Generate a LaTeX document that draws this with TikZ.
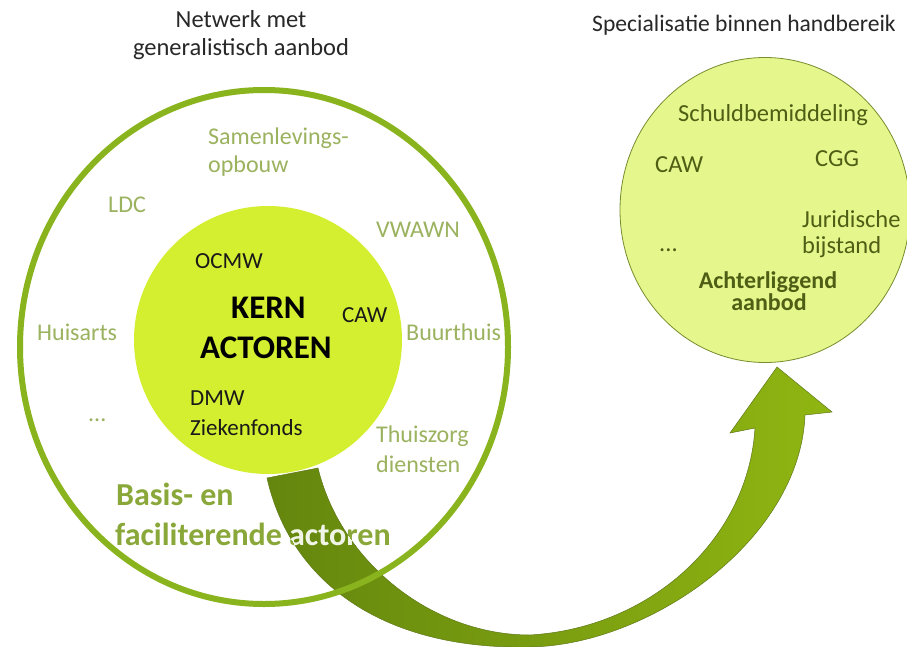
\documentclass[tikz,border=0pt]{standalone}
\usepackage{fontspec}
\setmainfont{Carlito}
\usetikzlibrary{positioning,shapes.geometric}

\definecolor{kerngroen}{RGB}{212,238,48}
\definecolor{ringgroen}{RGB}{138,180,30}
\definecolor{specvul}{RGB}{228,246,140}
\definecolor{speclijn}{RGB}{118,140,45}
\definecolor{lblgroen}{RGB}{155,178,95}
\definecolor{basisgroen}{RGB}{138,168,58}
\definecolor{spectekst}{RGB}{78,94,20}
\definecolor{titeltekst}{RGB}{40,40,40}
\definecolor{pijldonker}{RGB}{100,134,14}
\definecolor{pijllicht}{RGB}{144,182,18}
\definecolor{pijlrand}{RGB}{95,120,25}

\newcommand{\pijlvorm}{(267,478) .. controls (290,580) and (380,650) .. (530,647)
  .. controls (650,645) and (800,540) .. (805,415)
  -- (832,412) -- (777,367) -- (730,433) -- (755,428)
  .. controls (748,540) and (650,628) .. (530,635)
  .. controls (430,635) and (340,560) .. (318,468) -- cycle}

\begin{document}
\begin{tikzpicture}[x=1pt,y=-1pt,
  lbl/.style={font=\fontsize{24}{29}\selectfont, text=lblgroen, inner sep=0pt, anchor=base west},
  kerntxt/.style={font=\fontsize{23}{28}\selectfont, text=black!90, inner sep=0pt, anchor=base west},
  kernbig/.style={font=\fontsize{33}{38}\selectfont\bfseries, text=black, inner sep=0pt, anchor=base west},
  basis/.style={font=\fontsize{32}{37}\selectfont\bfseries, text=basisgroen, inner sep=0pt, anchor=base west},
  spec/.style={font=\fontsize{24.5}{29}\selectfont, text=spectekst, inner sep=0pt, anchor=base west},
  titel/.style={font=\fontsize{24.5}{29}\selectfont, text=titeltekst, inner sep=0pt}]
\clip (0,0) rectangle (907,647);
\fill[white] (0,0) rectangle (907,647);

\node[circle, fill=kerngroen, minimum size=268pt, inner sep=0pt] (kern) at (268,340) {};
\node[ellipse, fill=specvul, draw=speclijn, line width=0.8pt, minimum width=290pt, minimum height=305pt, inner sep=0pt] (spec) at (765,210) {};

% pijl
\path[left color=pijldonker, right color=pijllicht, draw=pijlrand, line width=0.5pt] \pijlvorm;

\node[ellipse, draw=ringgroen, line width=6pt, minimum width=488pt, minimum height=514pt, inner sep=0pt] (netwerk) at (264,347) {};

\node[titel, anchor=base] (t_net) at (241,28) {Netwerk met};
\node[titel, anchor=base] (t_gen) at (241,56) {generalistisch aanbod};
\node[titel, anchor=base west, font=\fontsize{23.6}{28}\selectfont] (t_spec) at (592,32) {Specialisatie binnen handbereik};

\node[lbl] (samen) at (208,145) {Samenlevings-};
\node[lbl] (opbouw) at ([yshift=-28pt]samen.base west) {opbouw};
\node[lbl] (ldc) at (108,212) {LDC};
\node[lbl] (vwawn) at (376,237) {VWAWN};
\node[lbl] (huisarts) at (37,340) {Huisarts};
\node[lbl] (buurthuis) at (406,340) {Buurthuis};
\node[lbl] (punten_l) at (88,421) {...};
\node[lbl] (thuiszorg) at (376,442) {Thuiszorg};
\node[lbl] (diensten) at ([yshift=-30pt]thuiszorg.base west) {diensten};

\node[kerntxt] (ocmw) at (195,268) {OCMW};
\node[kernbig] (kern_a) at (231,318) {KERN};
\node[kernbig] (kern_b) at (200,358) {ACTOREN};
\node[kerntxt] (caw_k) at (342,322) {CAW};
\node[kerntxt] (dmw) at (190,405) {DMW};
\node[kerntxt] (zf) at (190,435) {Ziekenfonds};

\node[basis] (basis_a) at (116,505) {Basis- en};
\node[basis] (basis_b) at (115,545) {faciliterende actoren};
\begin{scope}
  \clip \pijlvorm;
  \node[basis, text=white!88!basisgroen] (basis_c) at (115,545) {faciliterende actoren};
\end{scope}

\node[spec] (schuld) at (678,122) {Schuldbemiddeling};
\node[spec] (caw_s) at (655,173) {CAW};
\node[spec] (cgg) at (815,167) {CGG};
\node[spec] (jur) at (802,227) {Juridische};
\node[spec] (bijstand) at ([yshift=-26pt]jur.base west) {bijstand};
\node[spec] (punten_r) at (659,251) {...};
\node[spec, font=\fontsize{24}{29}\selectfont\bfseries, anchor=base] (achter) at (768,288) {Achterliggend};
\node[spec, font=\fontsize{24}{29}\selectfont\bfseries, anchor=base] (aanbod) at (769,310) {aanbod};
\end{tikzpicture}
\end{document}
